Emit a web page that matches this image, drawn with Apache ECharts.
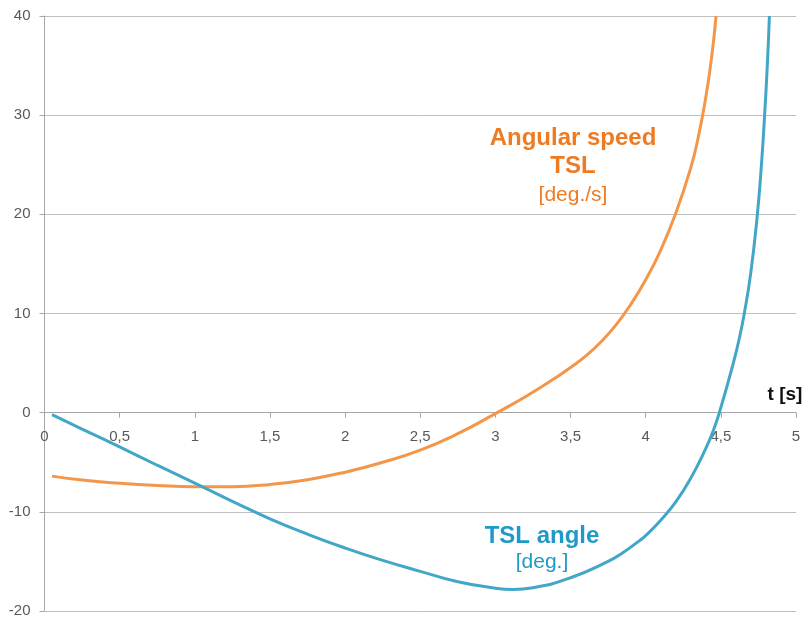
<!DOCTYPE html>
<html>
<head>
<meta charset="utf-8">
<script src="https://cdn.jsdelivr.net/npm/echarts@6/dist/echarts.min.js"></script>
<style>
html,body{margin:0;padding:0;background:#fff;}
#c{width:809px;height:622px;}
</style>
</head>
<body>
<div id="c"></div>
<script>
// Data
var speedT = [0.05, 0.25, 0.5, 0.75, 1.0, 1.25, 1.5, 1.75, 2.0, 2.25, 2.5, 2.75, 3.0, 3.1, 3.2, 3.3, 3.4, 3.5, 3.6, 3.7, 3.8, 3.9, 4.0, 4.1, 4.2, 4.3, 4.35, 4.4, 4.44, 4.468];
var speedV = [-6.4, -6.8, -7.12, -7.34, -7.46, -7.46, -7.24, -6.76, -6.0, -5.0, -3.77, -2.12, -0.1, 0.74, 1.62, 2.54, 3.51, 4.55, 5.7, 7.1, 8.8, 10.9, 13.4, 16.4, 20.1, 24.7, 27.8, 31.8, 36.0, 40];
var angleT = [0.05, 0.25, 0.5, 0.75, 1.0, 1.25, 1.5, 1.75, 2.0, 2.25, 2.5, 2.75, 3.0, 3.12, 3.25, 3.5, 3.75, 3.85, 3.95, 4.0, 4.1, 4.2, 4.3, 4.4, 4.45, 4.49, 4.583, 4.62, 4.656, 4.7, 4.743, 4.77, 4.79, 4.81, 4.823];
var angleV = [-0.2, -1.65, -3.45, -5.3, -7.1, -8.95, -10.7, -12.25, -13.65, -14.9, -16.0, -17.05, -17.7, -17.82, -17.65, -16.65, -15.0, -14.1, -13.0, -12.4, -10.85, -9.0, -6.6, -3.6, -1.8, 0, 5, 7.3, 10, 14.2, 20, 25, 29.7, 35.3, 40];
var xTicks = {min: 0, max: 5, step: 0.5};
var yTicks = {min: -20, max: 40, step: 10};
var labels = {
  speed: ['Angular speed', 'TSL', '[deg./s]'],
  angle: ['TSL angle', '[deg.]'],
  xName: 't [s]'
};

function pairs(t, v) { return t.map(function (x, i) { return [x, v[i]]; }); }

var chart = echarts.init(document.getElementById('c'), null, {renderer: 'canvas'});
var font = '"Liberation Sans", Arial, sans-serif';
var orangeLine = '#F4964A', blueLine = '#42A7C6';
var orangeText = '#EE7B22', blueText = '#1F9AC8';

chart.setOption({
  backgroundColor: '#ffffff',
  animation: false,
  grid: {left: 44.5, right: 13, top: 16, bottom: 11, containLabel: false, outerBoundsMode: 'none'},
  xAxis: {
    type: 'value', min: xTicks.min, max: xTicks.max, interval: xTicks.step,
    axisLine: {show: true, onZero: false, lineStyle: {color: '#A6A6A6', width: 1}},
    axisTick: {show: true, length: 5, inside: false, lineStyle: {color: '#A6A6A6'}},
    splitLine: {show: false},
    axisLabel: {
      margin: 17, color: '#595959', fontSize: 15, fontFamily: font,
      formatter: function (v) { return String(v).replace('.', ','); }
    }
  },
  yAxis: {
    type: 'value', min: yTicks.min, max: yTicks.max, interval: yTicks.step,
    axisLine: {show: true, onZero: false, lineStyle: {color: '#A6A6A6', width: 1}},
    axisTick: {show: true, length: 5, lineStyle: {color: '#A6A6A6'}},
    splitLine: {show: true, lineStyle: {color: '#BFBFBF', width: 1}},
    axisLabel: {margin: 14, color: '#595959', fontSize: 15, fontFamily: font}
  },
  series: [
    {
      name: 'Angular speed TSL', type: 'line', data: pairs(speedT, speedV),
      smooth: 0.5, showSymbol: false, symbol: 'none',
      lineStyle: {color: orangeLine, width: 3}, z: 3
    },
    {
      name: 'TSL angle', type: 'line', data: pairs(angleT, angleV),
      smooth: 0.5, showSymbol: false, symbol: 'none',
      lineStyle: {color: blueLine, width: 3}, z: 4
    }
  ],
  graphic: [
    {type: 'text', x: 573, y: 138, style: {text: labels.speed[0], fill: orangeText, font: 'bold 24px ' + font, textAlign: 'center', textVerticalAlign: 'middle'}},
    {type: 'text', x: 573, y: 166, style: {text: labels.speed[1], fill: orangeText, font: 'bold 24px ' + font, textAlign: 'center', textVerticalAlign: 'middle'}},
    {type: 'text', x: 573, y: 195, style: {text: labels.speed[2], fill: orangeText, font: '21px ' + font, textAlign: 'center', textVerticalAlign: 'middle'}},
    {type: 'text', x: 542, y: 536, style: {text: labels.angle[0], fill: blueText, font: 'bold 24px ' + font, textAlign: 'center', textVerticalAlign: 'middle'}},
    {type: 'text', x: 542, y: 562, style: {text: labels.angle[1], fill: blueText, font: '21px ' + font, textAlign: 'center', textVerticalAlign: 'middle'}},
    {type: 'text', x: 785, y: 395, style: {text: labels.xName, fill: '#111111', font: 'bold 19px ' + font, textAlign: 'center', textVerticalAlign: 'middle'}}
  ]
});

// Place the x axis (line, ticks and labels) on y = 0, using the library's own scale
var pZero = chart.convertToPixel({gridIndex: 0}, [0, 0])[1];
var pMin = chart.convertToPixel({gridIndex: 0}, [0, yTicks.min])[1];
chart.setOption({xAxis: {offset: -(pMin - pZero)}});
</script>
</body>
</html>
